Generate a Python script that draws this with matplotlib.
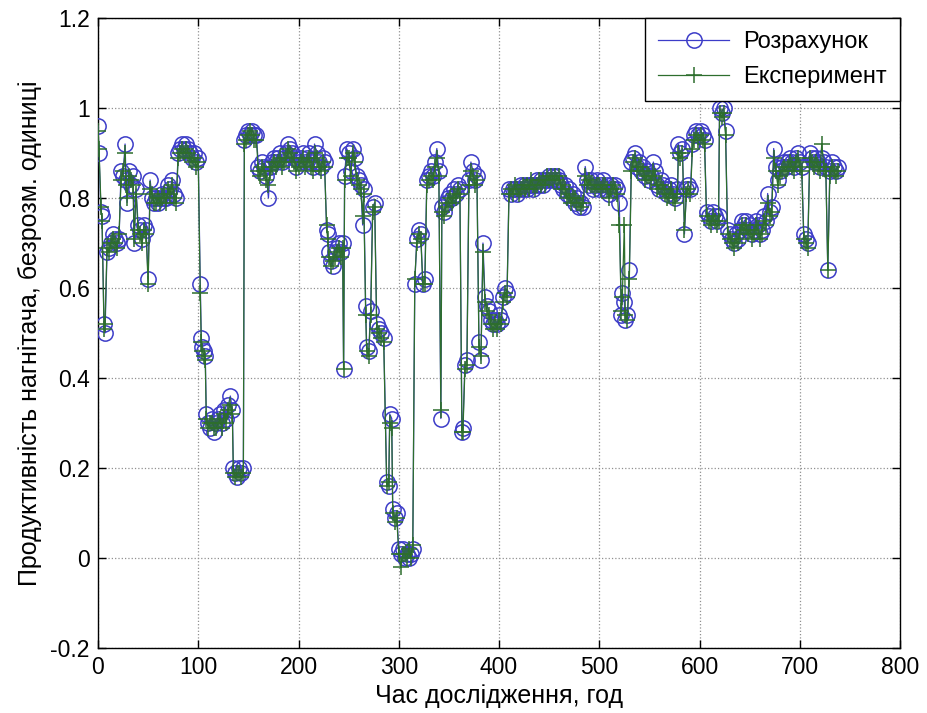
import matplotlib
matplotlib.use("Agg")
import matplotlib.pyplot as plt
import numpy as np

plt.rcParams['font.family'] = ['Liberation Sans', 'DejaVu Sans']

# ---- data ----
hours_a = [0, 1, 3, 4, 6, 7, 9, 11, 13, 15, 17, 19, 21, 23, 25, 27, 28, 29, 31, 33,
           35, 36, 38, 40, 42, 44, 46, 48, 50, 52, 54, 56, 58, 60, 62, 64, 66, 68, 70, 72,
           74, 76, 78, 80, 82, 84, 86, 88, 90, 92, 94, 96, 98, 100]
calc_a = [0.96, 0.90, 0.77, 0.76, 0.52, 0.50, 0.68, 0.69, 0.70, 0.72, 0.71, 0.70, 0.71, 0.86, 0.85, 0.92, 0.84, 0.79, 0.86, 0.83,
          0.85, 0.70, 0.82, 0.74, 0.73, 0.71, 0.74, 0.73, 0.62, 0.84, 0.80, 0.79, 0.80, 0.79, 0.80, 0.81, 0.80, 0.80, 0.83, 0.82,
          0.84, 0.81, 0.80, 0.90, 0.91, 0.92, 0.91, 0.92, 0.91, 0.90, 0.89, 0.90, 0.88, 0.89]
exp_a = [0.95, 0.91, 0.78, 0.75, 0.51, 0.52, 0.69, 0.68, 0.70, 0.71, 0.70, 0.69, 0.72, 0.84, 0.86, 0.90, 0.83, 0.80, 0.85, 0.84,
         0.83, 0.71, 0.81, 0.73, 0.72, 0.70, 0.73, 0.72, 0.61, 0.82, 0.81, 0.79, 0.79, 0.80, 0.79, 0.80, 0.81, 0.79, 0.82, 0.81,
         0.83, 0.80, 0.79, 0.89, 0.90, 0.91, 0.90, 0.91, 0.90, 0.89, 0.88, 0.89, 0.87, 0.88]

hours_b = [102, 103, 104, 106, 107, 108, 110, 112, 114, 116, 118, 120, 122, 124, 126, 128, 130, 132, 134, 135,
           137, 139, 141, 143, 145]
calc_b = [0.61, 0.49, 0.47, 0.46, 0.45, 0.32, 0.30, 0.29, 0.31, 0.28, 0.30, 0.31, 0.32, 0.30, 0.33, 0.31, 0.34, 0.36, 0.33, 0.20,
          0.19, 0.18, 0.20, 0.19, 0.20]
exp_b = [0.59, 0.48, 0.46, 0.45, 0.44, 0.31, 0.29, 0.30, 0.30, 0.29, 0.29, 0.30, 0.31, 0.29, 0.32, 0.30, 0.33, 0.34, 0.32, 0.19,
         0.18, 0.19, 0.19, 0.18, 0.19]

hours_c = [146, 148, 150, 152, 154, 156, 158, 160, 162, 164, 166, 168, 170, 172, 174, 176, 178, 180, 182, 184,
           186, 188, 190, 192, 194, 196, 198, 200, 202, 204, 206, 208, 210, 212, 214, 216, 218, 220, 222, 224, 226]
calc_c = [0.93, 0.94, 0.95, 0.94, 0.95, 0.94, 0.94, 0.87, 0.86, 0.88, 0.87, 0.85, 0.80, 0.87, 0.88, 0.89, 0.88, 0.89, 0.90, 0.88,
          0.89, 0.90, 0.92, 0.91, 0.90, 0.89, 0.87, 0.88, 0.89, 0.90, 0.88, 0.89, 0.90, 0.88, 0.87, 0.92, 0.90, 0.88, 0.87, 0.89, 0.88]
exp_c = [0.92, 0.93, 0.94, 0.95, 0.94, 0.93, 0.93, 0.86, 0.85, 0.87, 0.86, 0.84, 0.83, 0.86, 0.87, 0.88, 0.87, 0.88, 0.89, 0.87,
         0.88, 0.89, 0.91, 0.90, 0.89, 0.88, 0.86, 0.87, 0.88, 0.89, 0.87, 0.88, 0.89, 0.87, 0.86, 0.90, 0.89, 0.87, 0.86, 0.88, 0.87]

hours_d = [228, 229, 230, 232, 234, 236, 238, 240, 242, 244, 245, 246, 248, 250, 252, 254, 256, 258, 260, 262,
           264, 265, 267, 268, 270, 272, 274, 276, 278, 280, 282, 285, 288, 290, 291, 293, 294, 296, 298]
calc_d = [0.73, 0.72, 0.68, 0.66, 0.65, 0.68, 0.69, 0.70, 0.68, 0.70, 0.42, 0.85, 0.91, 0.90, 0.86, 0.91, 0.89, 0.85, 0.84, 0.83,
          0.74, 0.82, 0.56, 0.47, 0.46, 0.55, 0.78, 0.79, 0.52, 0.51, 0.50, 0.49, 0.17, 0.16, 0.32, 0.31, 0.11, 0.09, 0.10]
exp_d = [0.74, 0.71, 0.67, 0.65, 0.66, 0.67, 0.68, 0.69, 0.67, 0.69, 0.42, 0.84, 0.89, 0.89, 0.85, 0.90, 0.88, 0.84, 0.83, 0.82,
         0.76, 0.81, 0.54, 0.46, 0.45, 0.54, 0.77, 0.78, 0.51, 0.50, 0.49, 0.48, 0.16, 0.17, 0.30, 0.29, 0.10, 0.08, 0.09]

hours_e = [300, 302, 304, 306, 308, 310, 312, 314, 316, 318, 320, 322, 324, 326, 328, 330, 332, 334, 336, 338,
           340, 342, 343, 345, 347, 349, 351, 353, 355, 357, 359, 361, 363, 364, 366, 368, 370, 372, 374, 376,
           378, 380, 382, 384, 386, 388, 390, 392, 394, 396, 398, 400, 402, 404, 406, 408]
calc_e = [0.02, 0.01, 0.02, 0.00, 0.01, 0.00, 0.01, 0.02, 0.61, 0.71, 0.73, 0.72, 0.61, 0.62, 0.84, 0.85, 0.86, 0.85, 0.88, 0.91,
          0.86, 0.31, 0.78, 0.77, 0.79, 0.80, 0.81, 0.80, 0.82, 0.81, 0.83, 0.82, 0.28, 0.29, 0.43, 0.44, 0.84, 0.88, 0.86, 0.84,
          0.85, 0.48, 0.44, 0.70, 0.58, 0.56, 0.55, 0.53, 0.52, 0.53, 0.52, 0.54, 0.53, 0.58, 0.60, 0.59]
exp_e = [0.01, -0.02, 0.01, 0.01, 0.00, 0.02, 0.00, 0.03, 0.62, 0.70, 0.72, 0.71, 0.61, 0.61, 0.83, 0.84, 0.85, 0.84, 0.87, 0.89,
         0.85, 0.33, 0.77, 0.76, 0.78, 0.79, 0.80, 0.79, 0.81, 0.80, 0.82, 0.81, 0.28, 0.28, 0.42, 0.43, 0.83, 0.86, 0.85, 0.83,
         0.84, 0.47, 0.45, 0.68, 0.57, 0.55, 0.54, 0.52, 0.51, 0.52, 0.51, 0.53, 0.52, 0.57, 0.59, 0.58]

hours_f = [410, 412, 414, 416, 418, 420, 422, 424, 426, 428, 430, 432, 434, 436, 438, 440, 442, 444, 446, 448,
           450, 452, 454, 456, 458, 460, 462, 464, 466, 468, 470, 472, 474, 476, 478, 480, 482, 484, 486, 488,
           490, 492, 494, 496, 498, 500, 502, 504, 506, 508, 510, 512, 514, 516, 518, 520,
           522, 523, 525, 526, 528, 530]
calc_f = [0.82, 0.81, 0.82, 0.82, 0.81, 0.82, 0.83, 0.82, 0.83, 0.82, 0.83, 0.83, 0.82, 0.83, 0.84, 0.83, 0.84, 0.83, 0.84, 0.84,
          0.85, 0.84, 0.85, 0.84, 0.85, 0.84, 0.83, 0.82, 0.83, 0.81, 0.82, 0.80, 0.81, 0.79, 0.80, 0.78, 0.79, 0.78, 0.87, 0.84,
          0.83, 0.84, 0.82, 0.83, 0.84, 0.82, 0.83, 0.84, 0.82, 0.83, 0.81, 0.83, 0.82, 0.83, 0.82, 0.79,
          0.54, 0.59, 0.57, 0.53, 0.54, 0.64]
exp_f = [0.81, 0.82, 0.81, 0.83, 0.82, 0.81, 0.82, 0.83, 0.82, 0.83, 0.82, 0.84, 0.83, 0.82, 0.83, 0.84, 0.83, 0.84, 0.83, 0.85,
         0.84, 0.85, 0.84, 0.85, 0.84, 0.85, 0.82, 0.83, 0.82, 0.80, 0.81, 0.79, 0.80, 0.80, 0.79, 0.79, 0.78, 0.79, 0.85, 0.83,
         0.84, 0.83, 0.83, 0.82, 0.83, 0.83, 0.82, 0.83, 0.83, 0.82, 0.80, 0.82, 0.83, 0.82, 0.81, 0.74,
         0.55, 0.58, 0.74, 0.54, 0.53, 0.62]

hours_g = [532, 534, 536, 538, 540, 542, 544, 546, 548, 550, 552, 554, 556, 558, 560, 562, 564, 566, 568, 570,
           572, 574, 576, 578, 579, 581, 583, 585, 587, 589, 591, 593, 595, 597, 599, 601, 603, 605, 607, 609,
           611, 613, 615, 617, 619, 620, 622, 624, 626, 628, 630, 632, 634]
calc_g = [0.88, 0.89, 0.90, 0.87, 0.88, 0.86, 0.87, 0.85, 0.86, 0.84, 0.85, 0.88, 0.86, 0.83, 0.82, 0.84, 0.83, 0.82, 0.81, 0.82,
          0.83, 0.81, 0.80, 0.82, 0.92, 0.90, 0.91, 0.72, 0.82, 0.83, 0.82, 0.92, 0.94, 0.95, 0.94, 0.95, 0.94, 0.93, 0.77, 0.76,
          0.75, 0.77, 0.76, 0.75, 0.76, 1.00, 0.99, 1.00, 0.95, 0.73, 0.72, 0.71, 0.70]
exp_g = [0.86, 0.88, 0.89, 0.86, 0.87, 0.87, 0.86, 0.84, 0.85, 0.85, 0.84, 0.86, 0.85, 0.82, 0.83, 0.83, 0.82, 0.81, 0.80, 0.81,
         0.82, 0.80, 0.79, 0.81, 0.90, 0.89, 0.90, 0.73, 0.81, 0.82, 0.81, 0.91, 0.93, 0.94, 0.93, 0.94, 0.93, 0.92, 0.76, 0.75,
         0.74, 0.76, 0.75, 0.74, 0.75, 0.99, 0.98, 0.99, 0.94, 0.72, 0.71, 0.70, 0.69]

hours_h = [636, 638, 640, 642, 644, 646, 648, 650, 652, 654, 656, 658, 660, 662, 664, 666, 668, 670, 672, 674,
           676, 678, 680, 682, 684, 686, 688, 690, 692, 694, 696, 698, 700, 702, 704, 706, 708, 710, 712, 714,
           716, 718, 720, 722, 724, 726, 728, 730, 732, 734, 736, 738]
calc_h = [0.72, 0.71, 0.73, 0.75, 0.74, 0.75, 0.73, 0.74, 0.72, 0.73, 0.75, 0.74, 0.72, 0.73, 0.76, 0.75, 0.81, 0.77, 0.78, 0.91,
          0.87, 0.84, 0.86, 0.87, 0.88, 0.87, 0.88, 0.89, 0.88, 0.87, 0.89, 0.90, 0.88, 0.87, 0.72, 0.71, 0.70, 0.90, 0.89, 0.88,
          0.89, 0.88, 0.87, 0.89, 0.88, 0.87, 0.64, 0.86, 0.88, 0.87, 0.86, 0.87]
exp_h = [0.71, 0.70, 0.72, 0.74, 0.73, 0.74, 0.72, 0.73, 0.71, 0.72, 0.74, 0.73, 0.71, 0.72, 0.75, 0.74, 0.79, 0.76, 0.77, 0.89,
         0.86, 0.83, 0.85, 0.86, 0.87, 0.86, 0.87, 0.88, 0.87, 0.86, 0.88, 0.89, 0.87, 0.86, 0.71, 0.70, 0.69, 0.89, 0.88, 0.87,
         0.88, 0.87, 0.86, 0.92, 0.87, 0.86, 0.64, 0.85, 0.87, 0.86, 0.85, 0.86]

x_ticks = [0, 100, 200, 300, 400, 500, 600, 700, 800]
y_ticks = [-0.2, 0, 0.2, 0.4, 0.6, 0.8, 1.0, 1.2]
y_ticklabels = ['-0.2', '0', '0.2', '0.4', '0.6', '0.8', '1', '1.2']
label_calc = 'Розрахунок'
label_exp = 'Експеримент'
xlabel = 'Час дослідження, год'
ylabel = 'Продуктивність нагнітача, безрозм. одиниці'

hours = np.array(hours_a + hours_b + hours_c + hours_d + hours_e + hours_f + hours_g + hours_h)
calc = np.array(calc_a + calc_b + calc_c + calc_d + calc_e + calc_f + calc_g + calc_h)
expv = np.array(exp_a + exp_b + exp_c + exp_d + exp_e + exp_f + exp_g + exp_h)

# ---- figure ----
fig = plt.figure(figsize=(9.28, 7.13), dpi=100)
ax = fig.add_axes([98/928, 1 - 648/713, (900 - 98)/928, (648 - 18)/713])

blue = '#3c3cc8'
green = '#2d6e2d'
ax.plot(hours, calc, '-', color=blue, lw=0.9, marker='o', ms=11, mfc='none',
        mec=blue, mew=1.1, label=label_calc, zorder=3)
ax.plot(hours, expv, '-', color=green, lw=0.9, marker='+', ms=11, mew=1.1,
        mec=green, label=label_exp, zorder=4)

ax.set_xlim(0, 800)
ax.set_ylim(-0.2, 1.2)
ax.set_xticks(x_ticks)
ax.set_yticks(y_ticks)
ax.set_yticklabels(y_ticklabels)
ax.grid(True, linestyle=':', color='#909090', lw=0.9)
ax.tick_params(direction='in', top=True, right=True, labelsize=16.5, length=6, width=1, pad=6)
for s in ax.spines.values():
    s.set_linewidth(1.0)
    s.set_color('black')

ax.set_xlabel(xlabel, fontsize=18, labelpad=3)
ax.set_ylabel(ylabel, fontsize=18, labelpad=6)

leg = ax.legend(loc='upper right', fontsize=17, frameon=True, fancybox=False,
                framealpha=1, edgecolor='black', borderaxespad=0.0,
                handlelength=3.0, borderpad=0.55, labelspacing=0.55, handletextpad=0.6)
leg.get_frame().set_linewidth(1.0)

fig.savefig('out.png', dpi=100)
